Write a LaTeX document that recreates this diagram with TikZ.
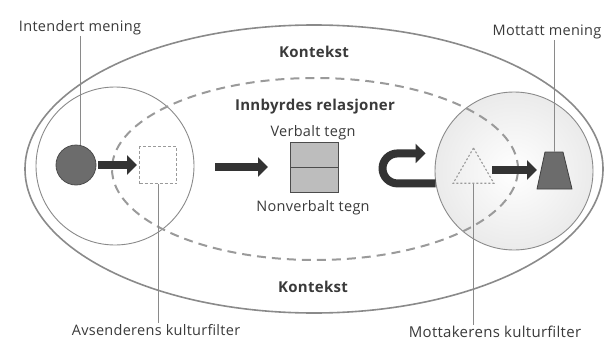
\documentclass[tikz,border=0pt]{standalone}
\usepackage{fontspec}
\setmainfont{Open Sans}[LetterSpace=2]
\usetikzlibrary{arrows.meta,shapes.geometric}
\definecolor{txt}{HTML}{3A3A3A}
\definecolor{ringc}{HTML}{8A8A8A}
\definecolor{dashc}{HTML}{9A9A9A}
\definecolor{darkfill}{HTML}{6C6C6C}
\definecolor{boxfill}{HTML}{BDBDBD}
\definecolor{arrowc}{HTML}{333333}
\tikzset{
  lbl/.style={text=txt, font=\fontsize{14.5}{16}\selectfont, inner sep=1pt},
  head/.style={text=txt, font=\fontsize{15}{17}\selectfont\bfseries, inner sep=1pt},
  pointer/.style={draw=ringc, line width=0.7pt},
  fatarrow/.style={draw=arrowc, line width=8pt, -{Triangle[length=10pt,width=19pt]}},
}
\begin{document}
\begin{tikzpicture}[x=1pt,y=-1pt]
\useasboundingbox (0,0) rectangle (610,340);
% outer context ellipse
\node[ellipse, draw=ringc, line width=1.6pt, minimum width=578, minimum height=288, inner sep=0] (outer) at (314,169) {};
% sender circle
\node[circle, draw=ringc, line width=0.9pt, minimum size=158, inner sep=0] (lc) at (115,166) {};
% receiver circle (shaded)
\node[circle, draw=ringc, line width=0.9pt, minimum size=158, inner sep=0,
      inner color=white, outer color=black!8] (rc) at (514,171) {};
% dashed inner ellipse
\node[ellipse, draw=dashc, line width=2pt, dash pattern=on 9pt off 6pt, minimum width=406, minimum height=182, inner sep=0] (inner) at (315,169) {};

% texts
\node[head] (k1) at (314,52) {Kontekst};
\node[head] (k2) at (313,287) {Kontekst};
\node[head] (rel) at (315,107) {Innbyrdes relasjoner};
\node[lbl] (vt) at (313,133) {Verbalt tegn};
\node[lbl] (nvt) at (313,208) {Nonverbalt tegn};
\node[lbl] (im) at (80,28) {Intendert mening};
\node[lbl] (mm) at (547,32) {Mottatt mening};
\node[lbl] (ak) at (156,330) {Avsenderens kulturfilter};
\node[lbl, font=\fontsize{15}{17}\selectfont] (mk) at (495,332) {Mottakerens kulturfilter};

% sender elements
\node[circle, draw=black!70, fill=darkfill, line width=0.8pt, minimum size=40, inner sep=0] (src) at (76,165) {};
\node[rectangle, draw=dashc, line width=1pt, dash pattern=on 3pt off 2pt, minimum size=37, inner sep=0] (f1) at (158,165) {};
\draw[fatarrow] ([xshift=2pt]src.east) -- ([xshift=-2pt]f1.west);

% message box
\node[rectangle, draw=black!70, fill=boxfill, line width=0.8pt, minimum width=48, minimum height=25, inner sep=0] (vb) at (314,154.5) {};
\node[rectangle, draw=black!70, fill=boxfill, line width=0.8pt, minimum width=48, minimum height=25, inner sep=0] (nvb) at (314,179.5) {};
\coordinate (m1) at (215,167);
\coordinate (m2) at (268,167);
\draw[fatarrow] (m1) -- (m2);

% u-turn arrow into receiver circle
\draw[draw=arrowc, line width=8pt, -{Triangle[length=10pt,width=19pt]}]
  (rc.189) -- ++(-38,0) arc[start angle=90, end angle=270, radius=15] -- ++(28,0) coordinate (uend);

% receiver elements
\node[regular polygon, regular polygon sides=3, draw=dashc, line width=1.1pt, dash pattern=on 2pt off 2pt, minimum size=47, inner sep=0] (f2) at (473.5,171.5) {};
\coordinate (trapTop) at (554,152);
\draw[draw=black!75, fill=darkfill, line width=0.8pt, line join=round]
  (545,152) -- (563,152) -- (572,189) -- (537,189) -- cycle;
\coordinate (a3s) at (492,170);
\coordinate (a3e) at (537,170);
\draw[fatarrow] (a3s) -- (a3e);

% pointer lines
\draw[pointer] (im.south) -- (im.south |- src.north);
\draw[pointer] (f1.south) -- (f1.south |- ak.north);
\draw[pointer] (f2.south) -- (f2.south |- mk.north);
\draw[pointer] (mm.south -| trapTop) -- (trapTop);
\end{tikzpicture}
\end{document}
